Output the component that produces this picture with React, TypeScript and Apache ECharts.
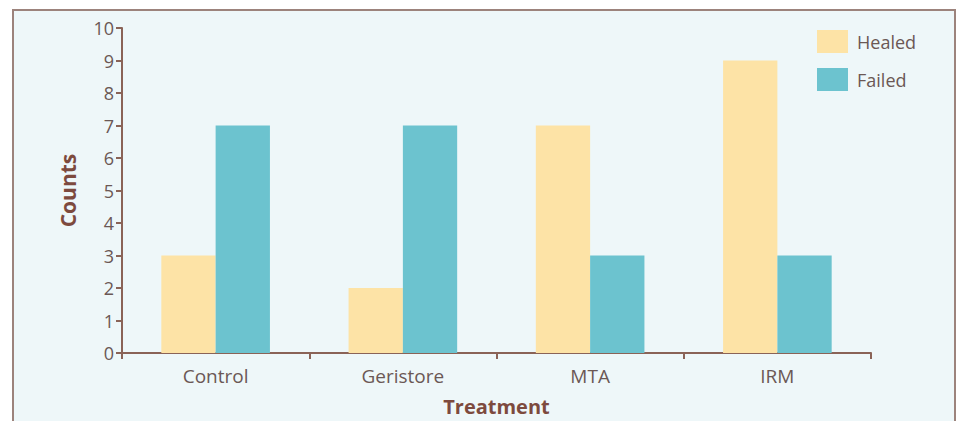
import React, { useEffect, useRef } from "react";
import * as echarts from "echarts";

const categories = ["Control", "Geristore", "MTA", "IRM"];
const healed = [3, 2, 7, 9];
const failed = [7, 7, 3, 3];
const seriesNames = ["Healed", "Failed"];

const textColor = "#6b5855";
const axisColor = "#8a6357";
const titleColor = "#7d4a3e";
const font = "'Open Sans', 'Noto Sans', sans-serif";

export default function App() {
  const ref = useRef<HTMLDivElement>(null);
  useEffect(() => {
    document.body.style.margin = "0";
    const chart = echarts.init(ref.current!, null, { renderer: "svg" });
    chart.setOption({
      animation: false,
      backgroundColor: "#ffffff",
      textStyle: { fontFamily: font },
      graphic: [
        {
          type: "rect",
          z: -10,
          silent: true,
          shape: { x: 13, y: 10, width: 942, height: 430 },
          style: { fill: "#eef7f9", stroke: "#9c837c", lineWidth: 2 },
        },
      ],
      legend: {
        orient: "vertical",
        left: 817,
        top: 30,
        padding: 0,
        itemWidth: 31,
        itemHeight: 23,
        itemGap: 15,
        icon: "rect",
        textStyle: { fontSize: 18, color: textColor, fontFamily: font, padding: [0, 0, 0, 4] },
        data: seriesNames,
      },
      grid: { left: 122, right: 90, top: 28, bottom: 64 },
      xAxis: {
        type: "category",
        data: categories,
        name: "Treatment",
        nameLocation: "middle",
        nameGap: 43,
        nameTextStyle: { fontSize: 20, fontWeight: "bold", color: titleColor, fontFamily: font },
        axisLine: { lineStyle: { color: axisColor, width: 2 } },
        axisTick: { show: true, length: 6, alignWithLabel: false, lineStyle: { color: axisColor, width: 2 } },
        axisLabel: { fontSize: 19, color: textColor, margin: 13, fontFamily: font },
        splitLine: { show: false },
      },
      yAxis: {
        type: "value",
        min: 0,
        max: 10,
        interval: 1,
        name: "Counts",
        nameLocation: "middle",
        nameRotate: 90,
        nameGap: 44,
        nameTextStyle: { fontSize: 21, fontWeight: "bold", color: titleColor, fontFamily: font },
        axisLine: { show: true, lineStyle: { color: axisColor, width: 2 } },
        axisTick: { show: true, length: 6, lineStyle: { color: axisColor, width: 2 } },
        axisLabel: { fontSize: 18, color: textColor, margin: 8, fontFamily: font },
        splitLine: { show: false },
      },
      series: [
        {
          name: seriesNames[0],
          type: "bar",
          data: healed,
          barGap: "0%",
          barCategoryGap: "42%",
          itemStyle: { color: "#fde3a6" },
        },
        {
          name: seriesNames[1],
          type: "bar",
          data: failed,
          barGap: "0%",
          barCategoryGap: "42%",
          itemStyle: { color: "#6cc3cf" },
        },
      ],
    });
    return () => chart.dispose();
  }, []);
  return <div ref={ref} style={{ width: 961, height: 421 }} />;
}
